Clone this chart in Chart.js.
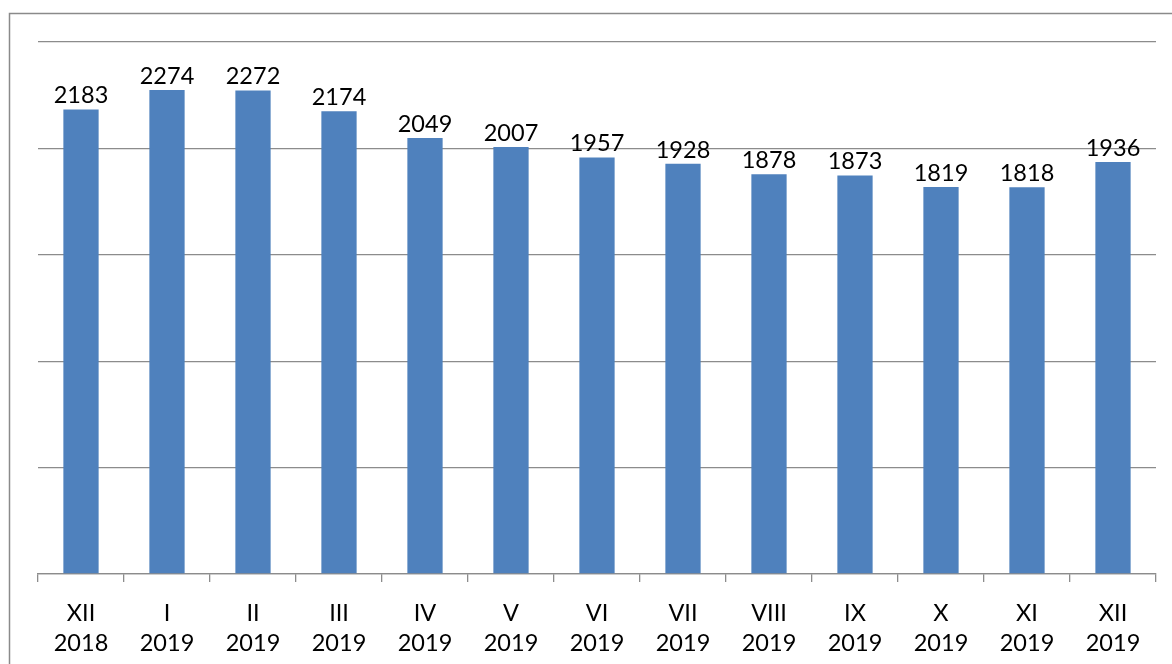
<!DOCTYPE html>
<html>
<head>
<meta charset="utf-8">
<script src="https://cdn.jsdelivr.net/npm/chart.js@4/dist/chart.umd.min.js"></script>
<style>
html,body{margin:0;padding:0;background:#fff;}
#wrap{width:1172px;height:664px;position:relative;}
</style>
</head>
<body>
<div id="wrap"><canvas id="c" width="1172" height="664"></canvas></div>
<script>
const months = ["XII","I","II","III","IV","V","VI","VII","VIII","IX","X","XI","XII"];
const years = ["2018","2019","2019","2019","2019","2019","2019","2019","2019","2019","2019","2019","2019"];
const values = [2183,2274,2272,2174,2049,2007,1957,1928,1878,1873,1819,1818,1936];
const yTicks = [0,500,1000,1500,2000,2500];

const labels = months.map((m,i)=>[m, years[i]]);
const FONT = "Lato, 'Open Sans', sans-serif";

const framePlugin = {
  id:'frame',
  beforeDraw(chart){
    const ctx = chart.ctx;
    ctx.save();
    ctx.strokeStyle = '#8a8a8a';
    ctx.lineWidth = 1.5;
    ctx.beginPath();
    ctx.moveTo(9.5, 664);
    ctx.lineTo(9.5, 13.5);
    ctx.lineTo(1172, 13.5);
    ctx.stroke();
    ctx.restore();
  }
};

const labelPlugin = {
  id:'barLabels',
  afterDatasetsDraw(chart){
    const ctx = chart.ctx;
    const meta = chart.getDatasetMeta(0);
    ctx.save();
    ctx.font = "23.5px " + FONT;
    ctx.fillStyle = '#000';
    ctx.textAlign = 'center';
    ctx.textBaseline = 'bottom';
    meta.data.forEach((bar,i)=>{
      ctx.fillText(String(values[i]), bar.x, bar.y - 2);
    });
    ctx.restore();
  }
};

new Chart(document.getElementById('c'), {
  type:'bar',
  data:{
    labels: labels,
    datasets:[{
      data: values,
      backgroundColor:'#4F81BD',
      borderWidth:0,
      categoryPercentage:1.0,
      barPercentage:0.41
    }]
  },
  options:{
    responsive:false,
    animation:false,
    devicePixelRatio:1,
    layout:{padding:{left:38,right:16,top:42,bottom:0}},
    plugins:{legend:{display:false},tooltip:{enabled:false},title:{display:false}},
    scales:{
      y:{
        min:0,max:2500,
        afterBuildTicks(axis){ axis.ticks = yTicks.map(v=>({value:v})); },
        ticks:{display:false},
        border:{display:false},
        grid:{color:'#8c8c8c',lineWidth:1.3,drawTicks:false}
      },
      x:{
        offset:true,
        afterFit(scale){ scale.height = 90; },
        border:{display:true,color:'#8c8c8c',width:1.3},
        grid:{offset:true,drawOnChartArea:false,drawTicks:true,tickLength:8,color:'#8c8c8c',lineWidth:1.3},
        ticks:{color:'#000',font:{family:FONT,size:23.5,lineHeight:1.28},padding:16,maxRotation:0,autoSkip:false}
      }
    }
  },
  plugins:[framePlugin,labelPlugin]
});
</script>
</body>
</html>
